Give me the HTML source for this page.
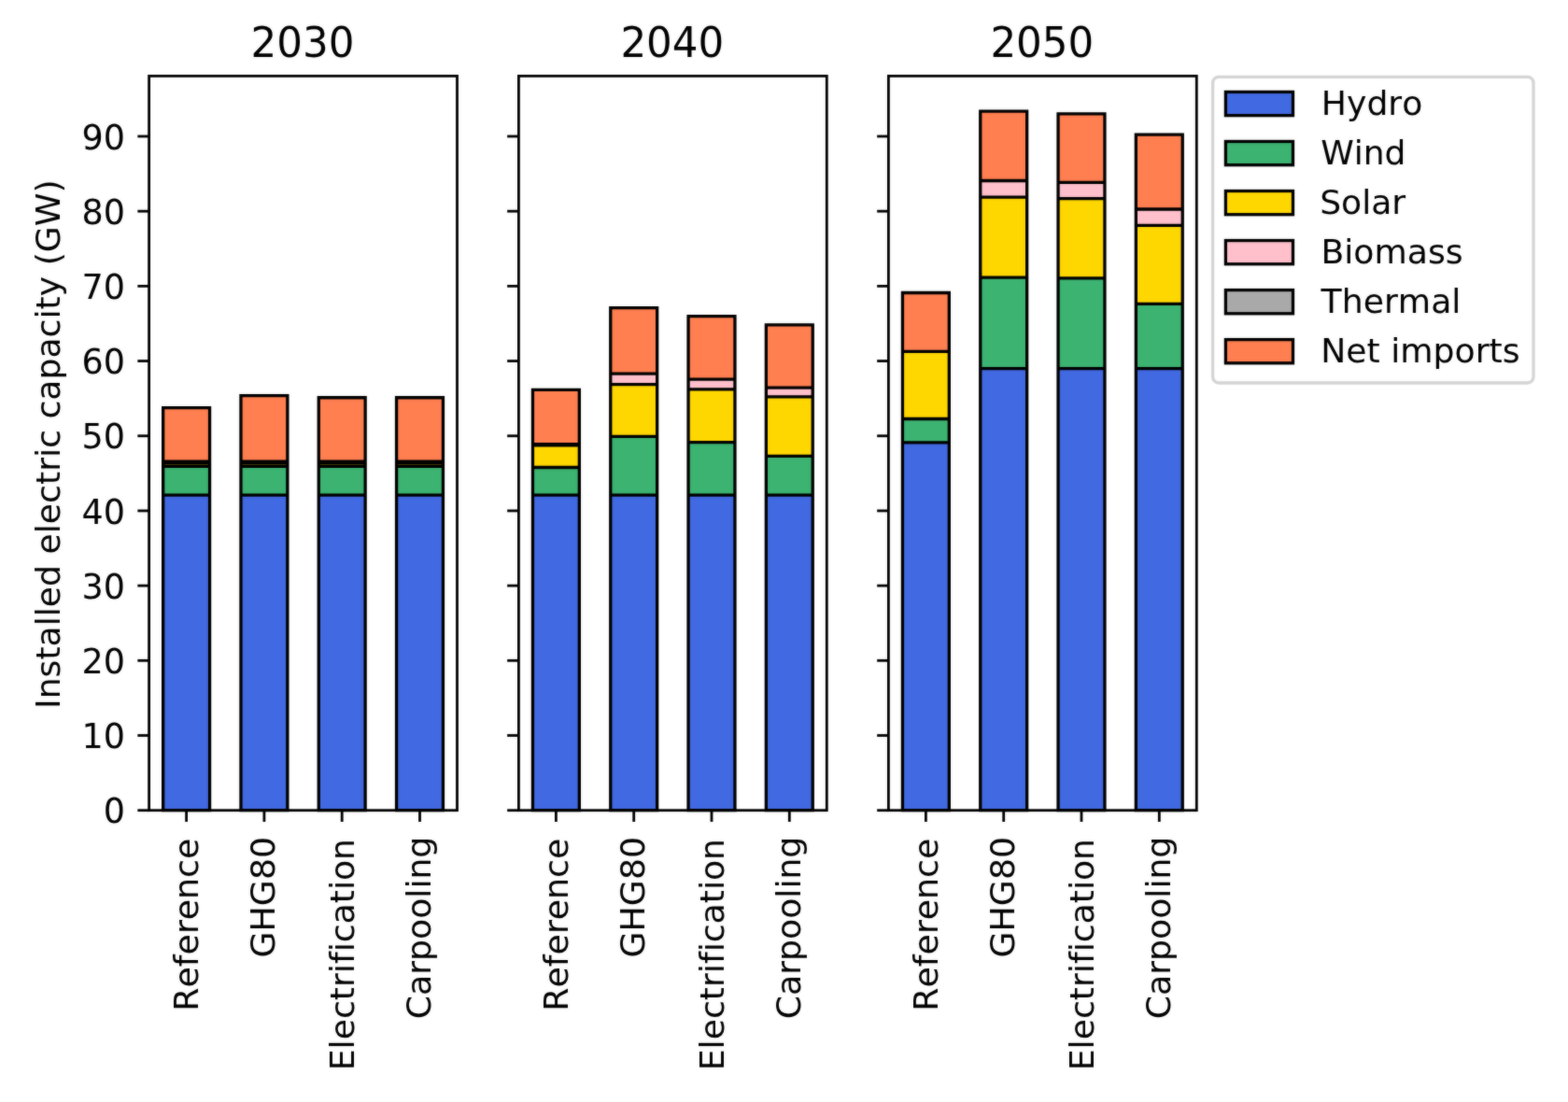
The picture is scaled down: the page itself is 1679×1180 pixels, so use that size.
<!DOCTYPE html>
<html lang="en"><head><meta charset="utf-8">
<title>Installed electric capacity (GW)</title>
<style>
html,body{margin:0;padding:0;background:#fff;}
body{width:1679px;height:1180px;overflow:hidden;}
svg{display:block;}
text{font-family:"DejaVu Sans", "Liberation Sans", sans-serif;fill:#000;font-variant-ligatures:none;font-feature-settings:"liga" 0,"clig" 0;font-kerning:none;}
.sp{fill:none;stroke:#000;stroke-width:2.8;stroke-linejoin:miter;}
.t{stroke:#000;stroke-width:2.8;}
.b{stroke:#000;stroke-width:3.3;stroke-linejoin:miter;}
</style></head><body>
<svg width="1679" height="1180" viewBox="0 0 1679 1180">
<defs><filter id="soft" filterUnits="userSpaceOnUse" x="-20" y="-20" width="1719" height="1220" color-interpolation-filters="sRGB"><feGaussianBlur in="SourceGraphic" stdDeviation="0.8" result="b"/><feComposite in="SourceGraphic" in2="b" operator="arithmetic" k1="0" k2="0.6" k3="0.4" k4="0"/></filter></defs>
<g filter="url(#soft)">
<rect x="-20" y="-20" width="1719" height="1220" fill="#fff"/>
<g>
<rect x="174.64" y="530.15" width="49.9" height="337.55" fill="#4169e1"/>
<rect x="174.64" y="499.35" width="49.9" height="30.8" fill="#3cb371"/>
<rect x="174.64" y="495.75" width="49.9" height="3.6" fill="#ffd700"/>
<rect x="174.64" y="494.9" width="49.9" height="0.85" fill="#ffc0cb"/>
<rect x="174.64" y="494.05" width="49.9" height="0.85" fill="#a9a9a9"/>
<rect x="174.64" y="436.6" width="49.9" height="57.45" fill="#ff7f50"/>
<path class="b" fill="none" d="M174.64 867.7H224.54V436.6H174.64ZM174.64 530.15H224.54M174.64 499.35H224.54M174.64 495.75H224.54M174.64 494.9H224.54M174.64 494.05H224.54"/>
<rect x="257.95" y="530.15" width="49.9" height="337.55" fill="#4169e1"/>
<rect x="257.95" y="499.35" width="49.9" height="30.8" fill="#3cb371"/>
<rect x="257.95" y="495.75" width="49.9" height="3.6" fill="#ffd700"/>
<rect x="257.95" y="494.9" width="49.9" height="0.85" fill="#ffc0cb"/>
<rect x="257.95" y="494.05" width="49.9" height="0.85" fill="#a9a9a9"/>
<rect x="257.95" y="423.7" width="49.9" height="70.35" fill="#ff7f50"/>
<path class="b" fill="none" d="M257.95 867.7H307.85V423.7H257.95ZM257.95 530.15H307.85M257.95 499.35H307.85M257.95 495.75H307.85M257.95 494.9H307.85M257.95 494.05H307.85"/>
<rect x="341.25" y="530.15" width="49.9" height="337.55" fill="#4169e1"/>
<rect x="341.25" y="499.35" width="49.9" height="30.8" fill="#3cb371"/>
<rect x="341.25" y="495.75" width="49.9" height="3.6" fill="#ffd700"/>
<rect x="341.25" y="494.9" width="49.9" height="0.85" fill="#ffc0cb"/>
<rect x="341.25" y="494.05" width="49.9" height="0.85" fill="#a9a9a9"/>
<rect x="341.25" y="425.75" width="49.9" height="68.3" fill="#ff7f50"/>
<path class="b" fill="none" d="M341.25 867.7H391.15V425.75H341.25ZM341.25 530.15H391.15M341.25 499.35H391.15M341.25 495.75H391.15M341.25 494.9H391.15M341.25 494.05H391.15"/>
<rect x="424.56" y="530.15" width="49.9" height="337.55" fill="#4169e1"/>
<rect x="424.56" y="499.35" width="49.9" height="30.8" fill="#3cb371"/>
<rect x="424.56" y="495.75" width="49.9" height="3.6" fill="#ffd700"/>
<rect x="424.56" y="494.9" width="49.9" height="0.85" fill="#ffc0cb"/>
<rect x="424.56" y="494.05" width="49.9" height="0.85" fill="#a9a9a9"/>
<rect x="424.56" y="425.75" width="49.9" height="68.3" fill="#ff7f50"/>
<path class="b" fill="none" d="M424.56 867.7H474.46V425.75H424.56ZM424.56 530.15H474.46M424.56 499.35H474.46M424.56 495.75H474.46M424.56 494.9H474.46M424.56 494.05H474.46"/>
<rect class="sp" x="159.6" y="81.4" width="329.9" height="786.3"/>
<line class="t" x1="147.35" y1="867.7" x2="159.6" y2="867.7"/>
<text transform="translate(133.85,881) scale(0.9998,1)" font-size="36.5" text-anchor="end">0</text>
<line class="t" x1="147.35" y1="787.51" x2="159.6" y2="787.51"/>
<text transform="translate(133.85,801) scale(0.9998,1)" font-size="36.5" text-anchor="end">10</text>
<line class="t" x1="147.35" y1="707.32" x2="159.6" y2="707.32"/>
<text transform="translate(133.85,721) scale(0.9998,1)" font-size="36.5" text-anchor="end">20</text>
<line class="t" x1="147.35" y1="627.13" x2="159.6" y2="627.13"/>
<text transform="translate(133.85,641) scale(0.9998,1)" font-size="36.5" text-anchor="end">30</text>
<line class="t" x1="147.35" y1="546.94" x2="159.6" y2="546.94"/>
<text transform="translate(133.85,561) scale(0.9998,1)" font-size="36.5" text-anchor="end">40</text>
<line class="t" x1="147.35" y1="466.75" x2="159.6" y2="466.75"/>
<text transform="translate(133.85,480) scale(0.9998,1)" font-size="36.5" text-anchor="end">50</text>
<line class="t" x1="147.35" y1="386.56" x2="159.6" y2="386.56"/>
<text transform="translate(133.85,400) scale(0.9998,1)" font-size="36.5" text-anchor="end">60</text>
<line class="t" x1="147.35" y1="306.37" x2="159.6" y2="306.37"/>
<text transform="translate(133.85,320) scale(0.9998,1)" font-size="36.5" text-anchor="end">70</text>
<line class="t" x1="147.35" y1="226.18" x2="159.6" y2="226.18"/>
<text transform="translate(133.85,240) scale(0.9998,1)" font-size="36.5" text-anchor="end">80</text>
<line class="t" x1="147.35" y1="145.99" x2="159.6" y2="145.99"/>
<text transform="translate(133.85,160) scale(0.9998,1)" font-size="36.5" text-anchor="end">90</text>
<line class="t" x1="199.59" y1="867.7" x2="199.59" y2="879.95"/>
<text transform="translate(212.27,1082.63) rotate(-90) scale(1.007,1)" font-size="36">Reference</text>
<line class="t" x1="282.9" y1="867.7" x2="282.9" y2="879.95"/>
<text transform="translate(293.9,1025.51) rotate(-90) scale(1.0068,1)" font-size="36">GHG80</text>
<line class="t" x1="366.2" y1="867.7" x2="366.2" y2="879.95"/>
<text transform="translate(379.15,1146.26) rotate(-90) scale(1.0055,1)" font-size="36">Electrification</text>
<line class="t" x1="449.51" y1="867.7" x2="449.51" y2="879.95"/>
<text transform="translate(460.75,1091.2) rotate(-90) scale(1.0054,1)" font-size="36">Carpooling</text>
<text transform="translate(268.6,61) scale(0.9905,1)" font-size="44">2030</text>
</g>
<g>
<rect x="570.44" y="530.2" width="49.9" height="337.5" fill="#4169e1"/>
<rect x="570.44" y="500.5" width="49.9" height="29.7" fill="#3cb371"/>
<rect x="570.44" y="476.75" width="49.9" height="23.75" fill="#ffd700"/>
<rect x="570.44" y="475.75" width="49.9" height="1" fill="#ffc0cb"/>
<rect x="570.44" y="417.4" width="49.9" height="58.35" fill="#ff7f50"/>
<path class="b" fill="none" d="M570.44 867.7H620.34V417.4H570.44ZM570.44 530.2H620.34M570.44 500.5H620.34M570.44 476.75H620.34M570.44 475.75H620.34"/>
<rect x="653.75" y="530.2" width="49.9" height="337.5" fill="#4169e1"/>
<rect x="653.75" y="467.4" width="49.9" height="62.8" fill="#3cb371"/>
<rect x="653.75" y="411.7" width="49.9" height="55.7" fill="#ffd700"/>
<rect x="653.75" y="400.2" width="49.9" height="11.5" fill="#ffc0cb"/>
<rect x="653.75" y="329.7" width="49.9" height="70.5" fill="#ff7f50"/>
<path class="b" fill="none" d="M653.75 867.7H703.65V329.7H653.75ZM653.75 530.2H703.65M653.75 467.4H703.65M653.75 411.7H703.65M653.75 400.2H703.65"/>
<rect x="737.05" y="530.2" width="49.9" height="337.5" fill="#4169e1"/>
<rect x="737.05" y="473.6" width="49.9" height="56.6" fill="#3cb371"/>
<rect x="737.05" y="416.8" width="49.9" height="56.8" fill="#ffd700"/>
<rect x="737.05" y="406.2" width="49.9" height="10.6" fill="#ffc0cb"/>
<rect x="737.05" y="338.55" width="49.9" height="67.65" fill="#ff7f50"/>
<path class="b" fill="none" d="M737.05 867.7H786.95V338.55H737.05ZM737.05 530.2H786.95M737.05 473.6H786.95M737.05 416.8H786.95M737.05 406.2H786.95"/>
<rect x="820.36" y="530.2" width="49.9" height="337.5" fill="#4169e1"/>
<rect x="820.36" y="488.4" width="49.9" height="41.8" fill="#3cb371"/>
<rect x="820.36" y="424.9" width="49.9" height="63.5" fill="#ffd700"/>
<rect x="820.36" y="415.2" width="49.9" height="9.7" fill="#ffc0cb"/>
<rect x="820.36" y="347.8" width="49.9" height="67.4" fill="#ff7f50"/>
<path class="b" fill="none" d="M820.36 867.7H870.26V347.8H820.36ZM820.36 530.2H870.26M820.36 488.4H870.26M820.36 424.9H870.26M820.36 415.2H870.26"/>
<rect class="sp" x="555.4" y="81.4" width="329.9" height="786.3"/>
<line class="t" x1="543.15" y1="867.7" x2="555.4" y2="867.7"/>
<line class="t" x1="543.15" y1="787.51" x2="555.4" y2="787.51"/>
<line class="t" x1="543.15" y1="707.32" x2="555.4" y2="707.32"/>
<line class="t" x1="543.15" y1="627.13" x2="555.4" y2="627.13"/>
<line class="t" x1="543.15" y1="546.94" x2="555.4" y2="546.94"/>
<line class="t" x1="543.15" y1="466.75" x2="555.4" y2="466.75"/>
<line class="t" x1="543.15" y1="386.56" x2="555.4" y2="386.56"/>
<line class="t" x1="543.15" y1="306.37" x2="555.4" y2="306.37"/>
<line class="t" x1="543.15" y1="226.18" x2="555.4" y2="226.18"/>
<line class="t" x1="543.15" y1="145.99" x2="555.4" y2="145.99"/>
<line class="t" x1="595.39" y1="867.7" x2="595.39" y2="879.95"/>
<text transform="translate(608.07,1082.63) rotate(-90) scale(1.007,1)" font-size="36">Reference</text>
<line class="t" x1="678.7" y1="867.7" x2="678.7" y2="879.95"/>
<text transform="translate(689.7,1025.51) rotate(-90) scale(1.0068,1)" font-size="36">GHG80</text>
<line class="t" x1="762" y1="867.7" x2="762" y2="879.95"/>
<text transform="translate(774.95,1146.26) rotate(-90) scale(1.0055,1)" font-size="36">Electrification</text>
<line class="t" x1="845.31" y1="867.7" x2="845.31" y2="879.95"/>
<text transform="translate(856.55,1091.2) rotate(-90) scale(1.0054,1)" font-size="36">Carpooling</text>
<text transform="translate(664.4,61) scale(0.9905,1)" font-size="44">2040</text>
</g>
<g>
<rect x="966.44" y="473.9" width="49.9" height="393.8" fill="#4169e1"/>
<rect x="966.44" y="448.5" width="49.9" height="25.4" fill="#3cb371"/>
<rect x="966.44" y="376.3" width="49.9" height="72.2" fill="#ffd700"/>
<rect x="966.44" y="313.5" width="49.9" height="62.8" fill="#ff7f50"/>
<path class="b" fill="none" d="M966.44 867.7H1016.34V313.5H966.44ZM966.44 473.9H1016.34M966.44 448.5H1016.34M966.44 376.3H1016.34"/>
<rect x="1049.75" y="394.6" width="49.9" height="473.1" fill="#4169e1"/>
<rect x="1049.75" y="297.1" width="49.9" height="97.5" fill="#3cb371"/>
<rect x="1049.75" y="211.2" width="49.9" height="85.9" fill="#ffd700"/>
<rect x="1049.75" y="193.5" width="49.9" height="17.7" fill="#ffc0cb"/>
<rect x="1049.75" y="119.1" width="49.9" height="74.4" fill="#ff7f50"/>
<path class="b" fill="none" d="M1049.75 867.7H1099.65V119.1H1049.75ZM1049.75 394.6H1099.65M1049.75 297.1H1099.65M1049.75 211.2H1099.65M1049.75 193.5H1099.65"/>
<rect x="1133.05" y="394.6" width="49.9" height="473.1" fill="#4169e1"/>
<rect x="1133.05" y="297.9" width="49.9" height="96.7" fill="#3cb371"/>
<rect x="1133.05" y="212.7" width="49.9" height="85.2" fill="#ffd700"/>
<rect x="1133.05" y="195.3" width="49.9" height="17.4" fill="#ffc0cb"/>
<rect x="1133.05" y="121.9" width="49.9" height="73.4" fill="#ff7f50"/>
<path class="b" fill="none" d="M1133.05 867.7H1182.95V121.9H1133.05ZM1133.05 394.6H1182.95M1133.05 297.9H1182.95M1133.05 212.7H1182.95M1133.05 195.3H1182.95"/>
<rect x="1216.36" y="394.6" width="49.9" height="473.1" fill="#4169e1"/>
<rect x="1216.36" y="325.4" width="49.9" height="69.2" fill="#3cb371"/>
<rect x="1216.36" y="241.4" width="49.9" height="84" fill="#ffd700"/>
<rect x="1216.36" y="224" width="49.9" height="17.4" fill="#ffc0cb"/>
<rect x="1216.36" y="144.2" width="49.9" height="79.8" fill="#ff7f50"/>
<path class="b" fill="none" d="M1216.36 867.7H1266.26V144.2H1216.36ZM1216.36 394.6H1266.26M1216.36 325.4H1266.26M1216.36 241.4H1266.26M1216.36 224H1266.26"/>
<rect class="sp" x="951.4" y="81.4" width="329.9" height="786.3"/>
<line class="t" x1="939.15" y1="867.7" x2="951.4" y2="867.7"/>
<line class="t" x1="939.15" y1="787.51" x2="951.4" y2="787.51"/>
<line class="t" x1="939.15" y1="707.32" x2="951.4" y2="707.32"/>
<line class="t" x1="939.15" y1="627.13" x2="951.4" y2="627.13"/>
<line class="t" x1="939.15" y1="546.94" x2="951.4" y2="546.94"/>
<line class="t" x1="939.15" y1="466.75" x2="951.4" y2="466.75"/>
<line class="t" x1="939.15" y1="386.56" x2="951.4" y2="386.56"/>
<line class="t" x1="939.15" y1="306.37" x2="951.4" y2="306.37"/>
<line class="t" x1="939.15" y1="226.18" x2="951.4" y2="226.18"/>
<line class="t" x1="939.15" y1="145.99" x2="951.4" y2="145.99"/>
<line class="t" x1="991.39" y1="867.7" x2="991.39" y2="879.95"/>
<text transform="translate(1004.07,1082.63) rotate(-90) scale(1.007,1)" font-size="36">Reference</text>
<line class="t" x1="1074.7" y1="867.7" x2="1074.7" y2="879.95"/>
<text transform="translate(1085.7,1025.51) rotate(-90) scale(1.0068,1)" font-size="36">GHG80</text>
<line class="t" x1="1158" y1="867.7" x2="1158" y2="879.95"/>
<text transform="translate(1170.95,1146.26) rotate(-90) scale(1.0055,1)" font-size="36">Electrification</text>
<line class="t" x1="1241.31" y1="867.7" x2="1241.31" y2="879.95"/>
<text transform="translate(1252.55,1091.2) rotate(-90) scale(1.0054,1)" font-size="36">Carpooling</text>
<text transform="translate(1060.4,61) scale(0.9905,1)" font-size="44">2050</text>
</g>
<text transform="translate(64.45,759.01) rotate(-90) scale(1.0048,1)" font-size="36">Installed electric capacity (GW)</text>
<g>
<rect x="1298.6" y="82.3" width="343.4" height="327.7" rx="6.5" ry="6.5" fill="#fff" stroke="#d4d4d4" stroke-width="3.3"/>
<rect class="b" x="1312.4" y="98.45" width="72.1" height="25.2" fill="#4169e1"/>
<text transform="translate(1414.87,123) scale(1.0039,1)" font-size="36">Hydro</text>
<rect class="b" x="1312.4" y="151.48" width="72.1" height="25.2" fill="#3cb371"/>
<text transform="translate(1414.14,176) scale(1.0002,1)" font-size="36">Wind</text>
<rect class="b" x="1312.4" y="204.51" width="72.1" height="25.2" fill="#ffd700"/>
<text transform="translate(1413.18,229) scale(1.0037,1)" font-size="36">Solar</text>
<rect class="b" x="1312.4" y="257.54" width="72.1" height="25.2" fill="#ffc0cb"/>
<text transform="translate(1414.51,282) scale(1.005,1)" font-size="36">Biomass</text>
<rect class="b" x="1312.4" y="310.57" width="72.1" height="25.2" fill="#a9a9a9"/>
<text transform="translate(1414.61,335) scale(1.0062,1)" font-size="36">Thermal</text>
<rect class="b" x="1312.4" y="363.6" width="72.1" height="25.2" fill="#ff7f50"/>
<text transform="translate(1414.28,388) scale(1.0061,1)" font-size="36">Net imports</text>
</g>
</g>
</svg>
</body></html>
